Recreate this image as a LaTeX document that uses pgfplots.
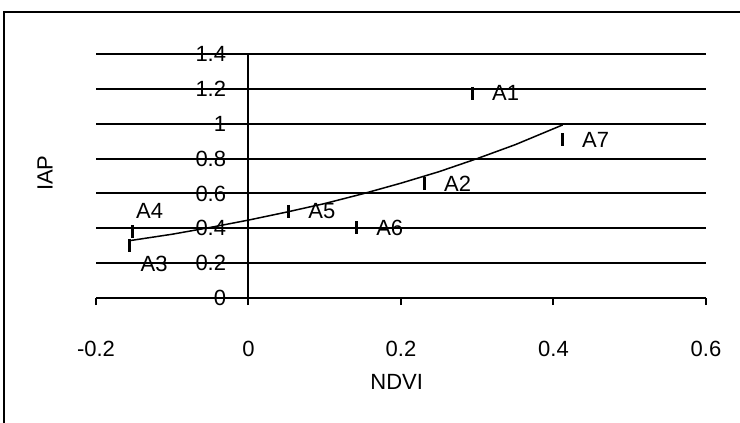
\documentclass[border=0pt]{standalone}
\usepackage{fontspec}
\setmainfont{Liberation Sans}
\usepackage{pgfplots}
\pgfplotsset{compat=1.18}
\begin{document}
\begin{tikzpicture}
\useasboundingbox (0,0) rectangle (370pt,-211.5pt);
\draw[line width=1pt] (2pt,-215pt) -- (2pt,-5.85pt) -- (375pt,-5.85pt);
\begin{axis}[
  at={(48pt,-149pt)}, anchor=south west,
  scale only axis, width=305pt, height=122pt,
  xmin=-0.2, xmax=0.6, ymin=0, ymax=1.4,
  axis x line=bottom, axis y line=middle,
  axis line style={-, line width=1pt, black},
  every inner y axis line/.append style={-},
  every outer x axis line/.append style={-},
  xtick={-0.2,0,0.2,0.4,0.6},
  ytick={0,0.2,0.4,0.6,0.8,1,1.2,1.4},
  yticklabels={0,0.2,0.4,0.6,0.8,1,1.2,1.4},
  xticklabels={-0.2,0,0.2,0.4,0.6},
  hide obscured x ticks=false, hide obscured y ticks=false,
  tick align=outside, major tick length=3.5pt,
  tick style={line width=1pt, black},
  ymajorgrids, grid style={line width=1pt, black},
  /pgf/number format/assume math mode=true,
  ticklabel style={font=\fontsize{11}{13}\selectfont},
  xticklabel style={anchor=center, yshift=-22pt},
  yticklabel style={anchor=east, xshift=-7.5pt, inner sep=0pt},
  every axis x label/.style={at={(axis description cs:0.493,-0.344)}, anchor=center, font=\fontsize{11}{13}\selectfont},
  every axis y label/.style={at={(axis description cs:-0.0836,0.512)}, anchor=center, rotate=90, font=\fontsize{11}{13}\selectfont},
  xlabel={NDVI}, ylabel={IAP},
  clip=false,
]
% trend line
\addplot[black, line width=0.75pt, no marks] coordinates {
  (-0.156,0.329) (-0.10,0.366) (-0.05,0.405) (0.00,0.447) (0.05,0.493)
  (0.10,0.542) (0.15,0.598) (0.20,0.659) (0.25,0.725) (0.30,0.800)
  (0.35,0.880) (0.412,0.993)
};
% points with labels to the right
\addplot[only marks, mark=|, mark size=3.25pt, mark options={line width=1.5pt, black},
  point meta=explicit symbolic, nodes near coords,
  nodes near coords style={anchor=west, inner sep=0pt, xshift=9pt, font=\fontsize{11}{13}\selectfont, black}]
  coordinates {
  (0.294,1.174) [A1]
  (0.412,0.908) [A7]
  (0.231,0.658) [A2]
  (0.053,0.497) [A5]
  (0.142,0.402) [A6]
};
% A4 label above
\addplot[only marks, mark=|, mark size=3.25pt, mark options={line width=1.5pt, black},
  point meta=explicit symbolic, nodes near coords,
  nodes near coords style={anchor=south west, inner sep=0pt, xshift=1pt, yshift=5.8pt, font=\fontsize{11}{13}\selectfont, black}]
  coordinates {
  (-0.152,0.380) [A4]
};
% A3 label below
\addplot[only marks, mark=|, mark size=3.25pt, mark options={line width=1.5pt, black},
  point meta=explicit symbolic, nodes near coords,
  nodes near coords style={anchor=north west, inner sep=0pt, xshift=4.8pt, yshift=-5pt, font=\fontsize{11}{13}\selectfont, black}]
  coordinates {
  (-0.156,0.304) [A3]
};
\end{axis}
\end{tikzpicture}
\end{document}
